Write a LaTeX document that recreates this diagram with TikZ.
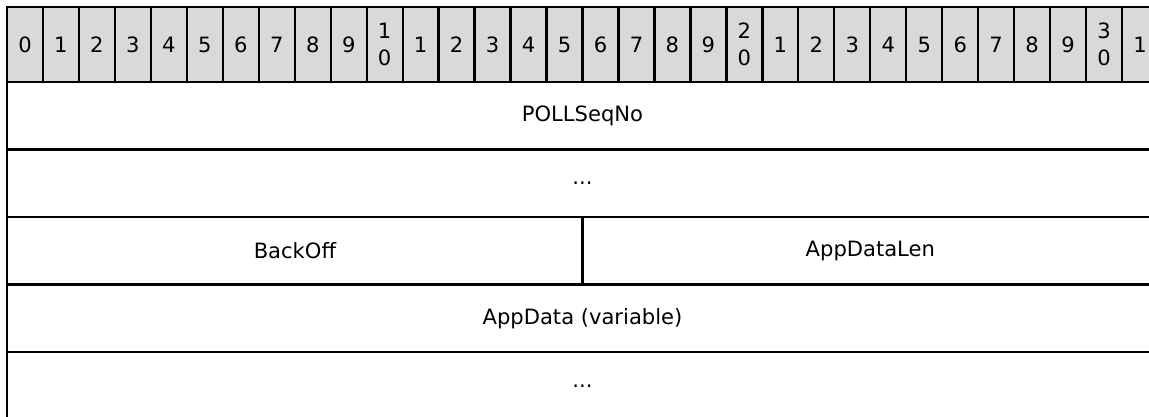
\documentclass[tikz,border=0pt]{standalone}
\usepackage{fontspec}
\setmainfont{DejaVu Sans}
\definecolor{headgray}{RGB}{217,217,217}
\tikzset{
  bitcell/.style={draw, line width=1.3pt, fill=headgray, minimum width=0.7194cm,
    minimum height=1.5cm, inner sep=0pt, outer sep=0pt, align=center},
  field/.style={draw, line width=1.3pt, minimum height=1.35cm, inner sep=0pt, outer sep=0pt},
}
\begin{document}
\begin{tikzpicture}[x=0.02cm,y=-0.02cm,font=\fontsize{12}{15.3}\selectfont]
        \useasboundingbox (0,0) rectangle (1149,416);
        \clip (0,0) rectangle (1149,416);
        % bit numbers
        \foreach \i in {0,...,31} {
          \pgfmathtruncatemacro{\tens}{int(\i/10)}
          \pgfmathtruncatemacro{\ones}{mod(\i,10)}
          \ifnum\i>0 \ifnum\ones=0 \def\lbl{\tens\\0}\else\def\lbl{\ones}\fi\else\def\lbl{0}\fi
          \node[bitcell] (bit\i) at ({24.98+35.97*\i},44.5) {\lbl};
        }
        % fields
        \node[field, minimum width=23.02cm] (seqno) at (582.5,115.75) {POLLSeqNo};
        \node[field, minimum width=23.02cm] (seqmore) at (582.5,183.25) {...};
        \node[field, minimum width=11.51cm] (backoff) at (294.9,250.75) {BackOff};
        \node[field, minimum width=11.51cm] (datalen) at (870.3,250.75) {AppDataLen};
        \node[field, minimum width=23.02cm] (appdata) at (582.5,318.25) {AppData (variable)};
        \node[field, minimum width=23.02cm] (datamore) at (582.5,385.75) {...};
      \end{tikzpicture}
\end{document}
